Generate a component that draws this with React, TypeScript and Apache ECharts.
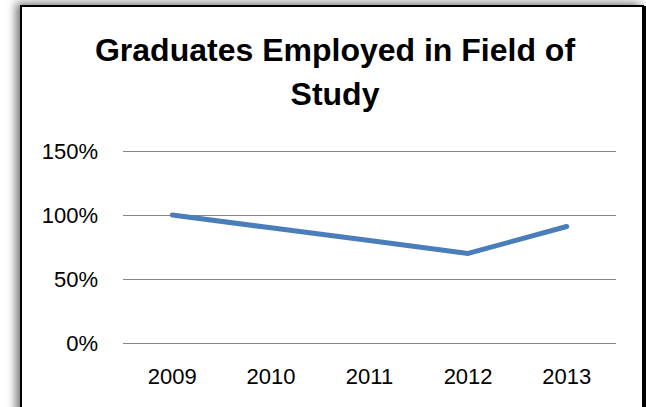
import React, { useEffect, useRef } from "react";
import * as echarts from "echarts";

const categories = ["2009", "2010", "2011", "2012", "2013"];
const employedPct = [100, 90, 80, 70, 91];
const yTicks = { min: 0, max: 150, interval: 50 };
const titleText = "Graduates Employed in Field of\nStudy";

export default function App() {
  const ref = useRef<HTMLDivElement>(null);
  useEffect(() => {
    if (!ref.current) return;
    const chart = echarts.init(ref.current, undefined, { renderer: "svg" });
    const font = "'Liberation Sans', Arial, sans-serif";
    chart.setOption({
      animation: false,
      backgroundColor: "#ffffff",
      graphic: [
        {
          type: "rect",
          z: -10,
          shape: { x: 21, y: 6, width: 622, height: 420 },
          style: {
            fill: "#ffffff",
            stroke: "#000000",
            lineWidth: 2,
            shadowBlur: 10,
            shadowOffsetX: -4,
            shadowOffsetY: -2,
            shadowColor: "rgba(0,0,0,0.55)",
          },
        },
        {
          type: "rect",
          z: -9,
          shape: { x: 642, y: 6, width: 4, height: 401 },
          style: { fill: "#000000" },
        },
      ],
      title: {
        text: titleText,
        left: 335,
        textAlign: "center",
        top: 28,
        padding: 0,
        textStyle: {
          fontFamily: font,
          fontWeight: "bold",
          fontSize: 32,
          lineHeight: 44,
          color: "#000000",
        },
      },
      grid: { left: 123, right: 30, top: 151, bottom: 64, containLabel: false },
      xAxis: {
        type: "category",
        data: categories,
        boundaryGap: true,
        axisLine: { show: false },
        axisTick: { show: false },
        axisLabel: {
          margin: 22,
          fontFamily: font,
          fontSize: 22,
          color: "#000000",
        },
      },
      yAxis: {
        type: "value",
        min: yTicks.min,
        max: yTicks.max,
        interval: yTicks.interval,
        axisLine: { show: false },
        axisTick: { show: false },
        axisLabel: {
          margin: 25,
          formatter: "{value}%",
          fontFamily: font,
          fontSize: 22,
          color: "#000000",
        },
        splitLine: { lineStyle: { color: "#868686", width: 1 } },
      },
      series: [
        {
          type: "line",
          data: employedPct,
          showSymbol: false,
          symbol: "none",
          lineStyle: { color: "#4A7EBB", width: 5, cap: "round", join: "round" },
        },
      ],
    });
    return () => chart.dispose();
  }, []);
  return (
    <div
      ref={ref}
      style={{ position: "fixed", left: 0, top: 0, width: 646, height: 407 }}
    />
  );
}
